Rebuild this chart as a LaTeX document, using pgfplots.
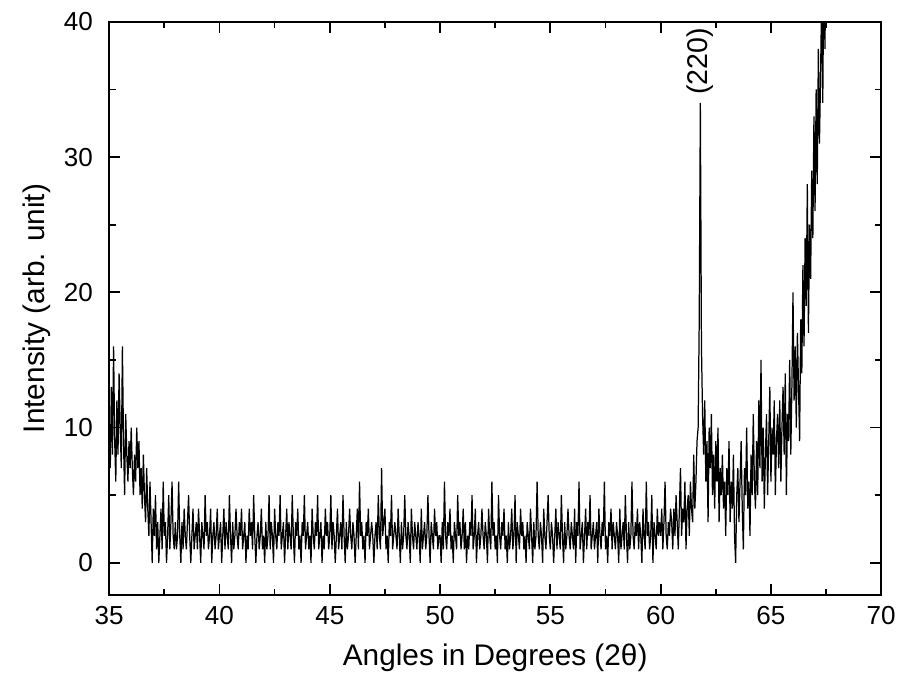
\documentclass[border=0pt]{standalone}
\usepackage{pgfplots}
\pgfplotsset{compat=1.18}
\usepackage{fontspec}
\setmainfont{Liberation Sans}
\begin{document}
\begin{tikzpicture}
\begin{axis}[
  scale only axis, width=311pt, height=231pt,
  xmin=35, xmax=70, ymin=-2.4, ymax=40,
  xtick={35,40,45,50,55,60,65,70}, ytick={0,10,20,30,40},
  minor x tick num=1, minor y tick num=1,
  tick align=inside, tick pos=both,
  xticklabel pos=lower, yticklabel pos=left,
  major tick length=4.4pt, minor tick length=2.6pt,
  axis line style={line width=0.8pt},
  every tick/.style={black, line width=0.7pt},
  tick label style={font=\fontsize{10.5}{12}\selectfont},
  /pgf/number format/assume math mode=true,
  xticklabel style={yshift=-1pt},
  yticklabel style={xshift=-3pt},
  label style={font=\fontsize{12}{14}\selectfont},
  xlabel={Angles in Degrees (2θ)},
  ylabel={Intensity (arb. unit)},
  xlabel style={at={(axis description cs:0.5,-0.109)}, anchor=center},
  ylabel style={at={(axis description cs:-0.0935,0.5)}, anchor=center},
]
\addplot[black, line width=0.5pt] coordinates {
(35.00,10)(35.05,7)(35.10,13)(35.15,8)(35.20,16)(35.25,9)(35.30,6)(35.35,12)(35.40,8)(35.45,14)
(35.50,10)(35.55,7)(35.60,16)(35.65,9)(35.70,5)(35.75,11)
(35.80,8)(35.85,6)(35.90,9)(35.95,7)(36.00,10)(36.05,7)(36.10,5)(36.15,8)(36.20,6)(36.25,10)
(36.30,7)(36.35,9)(36.40,5)(36.45,7)
(36.50,4)(36.55,8)(36.60,5)(36.65,3)(36.70,7)(36.75,4)(36.80,2)(36.85,6)(36.90,3)(36.95,0)
(37.00,4)(37.05,2)(37.10,5)(37.15,1)(37.20,3)(37.25,0)
(37.30,2)(37.35,4)(37.40,1)(37.45,6)(37.50,2)(37.55,3)(37.60,0)(37.65,2)(37.70,5)(37.75,1)
(37.80,3)(37.85,6)(37.90,2)(37.95,1)
(38.00,3)(38.05,1)(38.10,2)(38.15,6)(38.20,2)(38.25,0)(38.30,3)(38.35,1)(38.40,4)(38.45,2)
(38.50,1)(38.55,3)(38.60,5)(38.65,2)(38.70,0)(38.75,2)(38.80,4)(38.85,1)(38.90,2)(38.95,3)
(39.00,1)(39.05,4)(39.10,2)(39.15,0)(39.20,3)(39.25,2)(39.30,1)(39.35,5)(39.40,2)(39.45,3)
(39.50,1)(39.55,2)(39.60,4)(39.65,0)(39.70,2)(39.75,3)(39.80,1)(39.85,2)(39.90,4)(39.95,1)
(40.00,2)(40.05,3)(40.10,0)(40.15,2)(40.20,4)(40.25,1)(40.30,3)(40.35,2)(40.40,1)(40.45,5)
(40.50,2)(40.55,0)(40.60,3)(40.65,1)(40.70,2)(40.75,4)(40.80,2)(40.85,1)(40.90,3)(40.95,2)
(41.00,4)(41.05,1)(41.10,2)(41.15,3)(41.20,0)(41.25,2)(41.30,1)(41.35,4)(41.40,2)(41.45,3)
(41.50,1)(41.55,5)(41.60,2)(41.65,0)(41.70,2)(41.75,3)(41.80,1)(41.85,2)(41.90,4)(41.95,1)
(42.00,2)(42.05,0)(42.10,3)(42.15,1)(42.20,2)(42.25,5)(42.30,1)(42.35,3)(42.40,2)(42.45,0)
(42.50,4)(42.55,2)(42.60,1)(42.65,3)(42.70,2)(42.75,5)(42.80,1)(42.85,2)(42.90,3)(42.95,0)
(43.00,2)(43.05,4)(43.10,1)(43.15,3)(43.20,2)(43.25,1)(43.30,5)(43.35,2)(43.40,0)(43.45,3)
(43.50,2)(43.55,4)(43.60,1)(43.65,2)(43.70,0)(43.75,3)(43.80,2)(43.85,5)(43.90,1)(43.95,2)
(44.00,3)(44.05,1)(44.10,2)(44.15,0)(44.20,4)(44.25,2)(44.30,1)(44.35,3)(44.40,2)(44.45,5)
(44.50,1)(44.55,2)(44.60,3)(44.65,0)(44.70,2)(44.75,1)(44.80,4)(44.85,2)(44.90,3)(44.95,1)
(45.00,2)(45.05,5)(45.10,1)(45.15,3)(45.20,2)(45.25,0)(45.30,2)(45.35,4)(45.40,1)(45.45,2)
(45.50,3)(45.55,1)(45.60,5)(45.65,2)(45.70,0)(45.75,3)(45.80,1)(45.85,2)(45.90,4)(45.95,2)
(46.00,1)(46.05,3)(46.10,2)(46.15,0)(46.20,2)(46.25,4)(46.30,1)(46.35,6)(46.40,2)(46.45,3)
(46.50,1)(46.55,2)(46.60,0)(46.65,3)(46.70,2)(46.75,4)(46.80,1)(46.85,2)(46.90,3)(46.95,2)
(47.00,0)(47.05,2)(47.10,3)(47.15,1)(47.20,5)(47.25,2)(47.30,1)(47.35,7)(47.40,2)(47.45,3)
(47.50,4)(47.55,1)(47.60,2)(47.65,0)(47.70,3)(47.75,2)(47.80,5)(47.85,1)(47.90,2)(47.95,3)
(48.00,2)(48.05,1)(48.10,4)(48.15,2)(48.20,0)(48.25,3)(48.30,1)(48.35,2)(48.40,5)(48.45,2)
(48.50,1)(48.55,3)(48.60,2)(48.65,0)(48.70,4)(48.75,2)(48.80,1)(48.85,3)(48.90,2)(48.95,1)
(49.00,3)(49.05,2)(49.10,0)(49.15,4)(49.20,1)(49.25,2)(49.30,3)(49.35,1)(49.40,2)(49.45,5)
(49.50,2)(49.55,0)(49.60,3)(49.65,2)(49.70,1)(49.75,4)(49.80,2)(49.85,3)(49.90,1)(49.95,2)
(50.00,2)(50.05,0)(50.10,3)(50.15,1)(50.20,6)(50.25,2)(50.30,1)(50.35,3)(50.40,2)(50.45,4)
(50.50,1)(50.55,2)(50.60,0)(50.65,3)(50.70,2)(50.75,1)(50.80,5)(50.85,2)(50.90,3)(50.95,1)
(51.00,2)(51.05,4)(51.10,1)(51.15,3)(51.20,0)(51.25,2)(51.30,1)(51.35,3)(51.40,2)(51.45,5)
(51.50,1)(51.55,2)(51.60,4)(51.65,0)(51.70,2)(51.75,3)(51.80,1)(51.85,2)(51.90,4)(51.95,2)
(52.00,1)(52.05,3)(52.10,2)(52.15,0)(52.20,4)(52.25,2)(52.30,1)(52.35,6)(52.40,2)(52.45,3)
(52.50,1)(52.55,2)(52.60,0)(52.65,5)(52.70,2)(52.75,1)(52.80,3)(52.85,2)(52.90,4)(52.95,1)
(53.00,2)(53.05,0)(53.10,3)(53.15,1)(53.20,2)(53.25,4)(53.30,1)(53.35,2)(53.40,5)(53.45,0)
(53.50,3)(53.55,2)(53.60,1)(53.65,4)(53.70,2)(53.75,3)(53.80,1)(53.85,2)(53.90,0)(53.95,3)
(54.00,2)(54.05,1)(54.10,4)(54.15,2)(54.20,0)(54.25,3)(54.30,1)(54.35,2)(54.40,6)(54.45,2)
(54.50,1)(54.55,3)(54.60,2)(54.65,0)(54.70,4)(54.75,2)(54.80,1)(54.85,3)(54.90,5)(54.95,2)
(55.00,1)(55.05,3)(55.10,2)(55.15,0)(55.20,2)(55.25,4)(55.30,1)(55.35,3)(55.40,2)(55.45,1)
(55.50,5)(55.55,2)(55.60,0)(55.65,3)(55.70,1)(55.75,2)(55.80,4)(55.85,2)(55.90,1)(55.95,3)
(56.00,2)(56.05,1)(56.10,4)(56.15,0)(56.20,3)(56.25,2)(56.30,6)(56.35,1)(56.40,2)(56.45,3)
(56.50,0)(56.55,2)(56.60,4)(56.65,1)(56.70,3)(56.75,2)(56.80,5)(56.85,1)(56.90,2)(56.95,3)
(57.00,1)(57.05,2)(57.10,3)(57.15,0)(57.20,4)(57.25,2)(57.30,1)(57.35,3)(57.40,2)(57.45,6)
(57.50,1)(57.55,2)(57.60,0)(57.65,3)(57.70,2)(57.75,4)(57.80,1)(57.85,3)(57.90,2)(57.95,1)
(58.00,3)(58.05,2)(58.10,0)(58.15,4)(58.20,1)(58.25,2)(58.30,3)(58.35,1)(58.40,5)(58.45,2)
(58.50,0)(58.55,3)(58.60,1)(58.65,2)(58.70,6)(58.75,2)(58.80,1)(58.85,3)(58.90,2)(58.95,4)
(59.00,1)(59.05,3)(59.10,2)(59.15,0)(59.20,4)(59.25,2)(59.30,1)(59.35,6)(59.40,2)(59.45,3)
(59.50,1)(59.55,2)(59.60,5)(59.65,0)(59.70,3)(59.75,2)(59.80,1)(59.85,4)(59.90,2)(59.95,3)
(60.00,2)(60.05,4)(60.10,1)(60.15,3)(60.20,6)(60.25,2)(60.30,1)(60.35,3)(60.40,2)(60.45,4)
(60.50,3)(60.55,1)(60.60,4)(60.65,2)(60.70,5)(60.75,3)(60.80,1)(60.85,4)(60.90,7)(60.95,2)
(61.00,4)(61.05,3)(61.10,6)(61.15,1)(61.20,4)(61.25,5)(61.30,2)(61.35,6)(61.40,4)(61.45,3)
(61.50,8)(61.55,4)(61.60,6)(61.65,9)(61.70,10)(61.75,18)(61.80,34)(61.85,16)
(61.90,11)(61.95,8)(62.00,12)(62.05,6)(62.10,9)(62.15,3)(62.20,10)(62.25,7)(62.30,11)(62.35,5)
(62.40,8)(62.45,4)(62.50,9)(62.55,6)(62.60,10)(62.65,3)(62.70,7)(62.75,5)
(62.80,8)(62.85,4)(62.90,6)(62.95,2)(63.00,7)(63.05,5)(63.10,9)(63.15,3)(63.20,6)(63.25,4)
(63.30,8)(63.35,2)(63.40,0)(63.45,5)(63.50,7)(63.55,3)(63.60,6)(63.65,9)(63.70,4)(63.75,1)
(63.80,7)(63.85,5)(63.90,10)(63.95,4)(64.00,6)(64.05,2)(64.10,8)(64.15,5)(64.20,11)
(64.25,6)(64.30,4)(64.35,9)(64.40,5)(64.45,12)(64.50,7)(64.55,15)(64.60,6)(64.65,10)(64.70,4)
(64.75,8)(64.80,11)(64.85,5)(64.90,9)(64.95,13)(65.00,6)(65.05,10)(65.10,8)(65.15,12)(65.20,5)
(65.25,9)(65.30,11)(65.35,7)(65.40,12)(65.45,6)(65.50,10)(65.55,13)
(65.60,8)(65.65,14)(65.70,5)(65.75,11)(65.80,9)(65.85,15)(65.90,8)(65.95,13)(66.00,20)(66.05,12)
(66.10,16)(66.15,10)(66.20,17)(66.25,13)(66.30,9)(66.35,18)
(66.40,14)(66.45,22)(66.50,16)(66.55,24)(66.60,19)(66.65,28)(66.70,17)(66.75,25)(66.80,21)(66.85,29)
(66.90,24)(66.95,33)(67.00,26)(67.05,35)(67.10,28)(67.15,38)(67.20,31)(67.25,36)(67.30,42)(67.35,34)
(67.40,45)(67.45,38)(67.50,48)(67.55,44)(67.60,50)
};
\node[rotate=90, anchor=west, inner sep=1pt, font=\fontsize{11.5}{13}\selectfont] at (axis cs:61.8,34.4) {(220)};
\coordinate (bl) at (rel axis cs:-0.1414,-0.1505);
\coordinate (tr) at (rel axis cs:1.0206,1.038);
\end{axis}
\path (bl) rectangle (tr);
\end{tikzpicture}
\end{document}
